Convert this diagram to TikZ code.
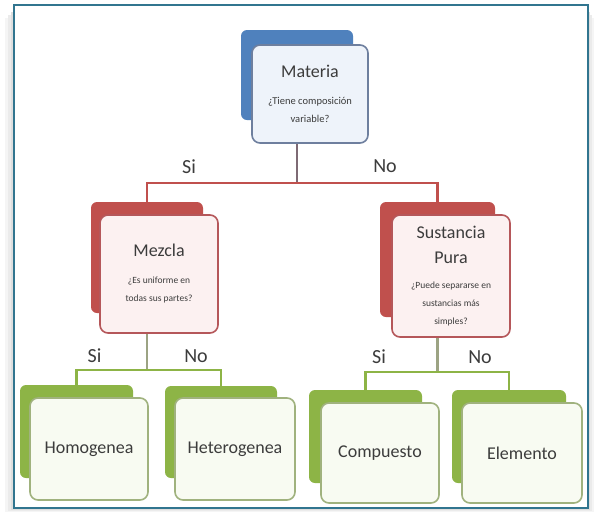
\documentclass[tikz,border=0pt]{standalone}
\usepackage{fontspec}
\setmainfont{Carlito}
\definecolor{frameC}{HTML}{31758F}
\definecolor{blueB}{HTML}{4F81BD}
\definecolor{blueF}{HTML}{EEF3FA}
\definecolor{blueL}{HTML}{6E7F9E}
\definecolor{redB}{HTML}{C0504D}
\definecolor{redF}{HTML}{FCF1F1}
\definecolor{redL}{HTML}{B5575A}
\definecolor{greenB}{HTML}{8DB446}
\definecolor{greenF}{HTML}{F8FBF2}
\definecolor{greenL}{HTML}{A0B27E}
\definecolor{midC}{HTML}{7E6A74}
\definecolor{midG}{HTML}{9CA383}
\definecolor{txt}{HTML}{3C3C3C}
\newcommand\myTitle{\fontsize{18}{22}\selectfont}
\newcommand\mySub{\fontsize{9.5}{12}\selectfont}
\newcommand\mySubB{\fontsize{10.5}{12}\selectfont}
\begin{document}
\begin{tikzpicture}[x=1pt,y=-1pt,
  back/.style={rounded corners=6pt, inner sep=0pt, outer sep=0pt, draw=none},
  front/.style={rounded corners=8pt, inner sep=0pt, line width=1.6pt, align=center, text=txt,
    font=\fontsize{10}{18}\selectfont},
  conn/.style={line width=2.4pt},
  lab/.style={font=\fontsize{20}{22}\selectfont, text=txt, anchor=base, inner sep=0pt}]
\useasboundingbox (0,0) rectangle (594,512);
% frame with shadow
\fill[black!4] (5,18) rectangle (594,512);
\fill[black!8] (8,15) rectangle (592,511);
\fill[black!13] (11,12) rectangle (590,510);
\fill[white] (14,5) rectangle (588,508);
\draw[frameC, line width=2.2pt] (14,5) rectangle (588,508);
% back boxes
\node[back, fill=blueB, minimum width=112pt, minimum height=90pt] (mb) at (297,75) {};
\node[back, fill=redB, minimum width=112pt, minimum height=111pt] (zb) at (147,257.5) {};
\node[back, fill=redB, minimum width=115pt, minimum height=115pt] (sb) at (437.5,259.5) {};
\node[back, fill=greenB, minimum width=113pt, minimum height=93pt] (hob) at (76.5,431.5) {};
\node[back, fill=greenB, minimum width=112pt, minimum height=92pt] (heb) at (221,432) {};
\node[back, fill=greenB, minimum width=113pt, minimum height=93pt] (cob) at (365.5,436.5) {};
\node[back, fill=greenB, minimum width=114pt, minimum height=93pt] (elb) at (509,436.5) {};
% connectors
\coordinate (j1) at (297,183);
\coordinate (j2) at (147,370);
\coordinate (j3) at (437.5,372);
\draw[conn, midC] (mb.south) -- (j1);
\draw[conn, redB] (zb.north) |- (j1) -| (sb.north);
\draw[conn, midG] (zb.south) -- (j2);
\draw[conn, greenB] (hob.north) |- (j2) -| (heb.north);
\draw[conn, midG] (sb.south) -- (j3);
\draw[conn, greenB] (cob.north) |- (j3) -| (elb.north);
% front boxes
\node[front, fill=blueF, draw=blueL, minimum width=116pt, minimum height=98pt] (mf) at (310,94)
  {\myTitle Materia\\[9pt] \mySubB ¿Tiene composición\\ \mySubB variable?};
\node[front, fill=redF, draw=redL, minimum width=118pt, minimum height=118pt] (zf) at (159,274)
  {\myTitle Mezcla\\[9pt] \mySub ¿Es uniforme en\\ \mySub todas sus partes?};
\node[front, fill=redF, draw=redL, minimum width=118pt, minimum height=122pt] (sf) at (451,276)
  {\myTitle Sustancia\\[7pt] \myTitle Pura\\[7pt] \mySub ¿Puede separarse en\\ \mySub sustancias más\\ \mySub simples?};
\node[front, fill=greenF, draw=greenL, minimum width=118pt, minimum height=102pt] (hof) at (89,449)
  {\myTitle Homogenea};
\node[front, fill=greenF, draw=greenL, minimum width=120pt, minimum height=102pt] (hef) at (235,449)
  {\myTitle Heterogenea};
\node[front, fill=greenF, draw=greenL, minimum width=118pt, minimum height=100pt] (cof) at (380,453)
  {\myTitle Compuesto};
\node[front, fill=greenF, draw=greenL, minimum width=120pt, minimum height=100pt] (elf) at (522,453)
  {\myTitle Elemento};
% labels
\node[lab] (l1) at (189,173) {Si};
\node[lab] (l2) at (385,172) {No};
\node[lab] (l3) at (94.5,362) {Si};
\node[lab] (l4) at (196,362) {No};
\node[lab] (l5) at (379,363) {Si};
\node[lab] (l6) at (480,363) {No};
\end{tikzpicture}
\end{document}
